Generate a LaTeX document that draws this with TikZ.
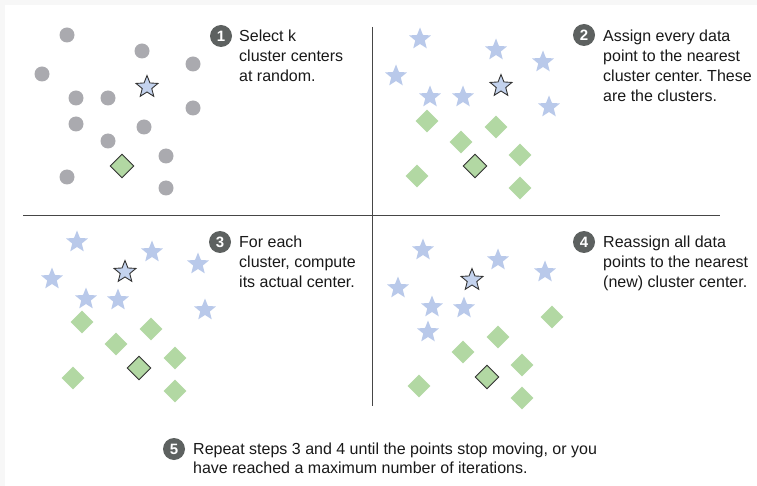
\documentclass[tikz,border=0pt]{standalone}
\usepackage{fontspec}
\setmainfont{Liberation Sans}
\usepackage{xcolor}
\usetikzlibrary{shapes.geometric, positioning}
\frenchspacing

\definecolor{bggray}{RGB}{247,247,247}
\definecolor{dotgray}{RGB}{170,170,175}
\definecolor{pointblue}{RGB}{185,201,234}
\definecolor{centerblue}{RGB}{196,211,238}
\definecolor{pointgreen}{RGB}{178,216,163}
\definecolor{markgray}{RGB}{93,97,96}
\definecolor{edgegray}{RGB}{51,51,51}
\definecolor{rulegray}{RGB}{70,70,70}

\begin{document}
\begin{tikzpicture}[
    x=1pt,y=-1pt,
    datapt/.style={circle, fill=dotgray, inner sep=0pt, minimum size=15pt},
    bluept/.style={star, star points=5, star point ratio=2.3, fill=pointblue, inner sep=0pt, minimum size=23pt},
    greenpt/.style={diamond, fill=pointgreen, inner sep=0pt, minimum size=23pt},
    bluecenter/.style={bluept, fill=centerblue, draw=edgegray, line width=0.9pt},
    greencenter/.style={greenpt, minimum size=24pt, draw=edgegray, line width=0.9pt},
    stepnum/.style={circle, fill=markgray, text=white, inner sep=0pt, minimum size=22pt, font=\fontsize{15}{15}\selectfont\bfseries},
    steptext/.style={anchor=north west, inner sep=0pt, align=left, text=black!90, font=\fontsize{16}{20}\selectfont},
    divider/.style={draw=rulegray, line width=1pt}
]

    % --- Canvas ---
    \useasboundingbox (0,0) rectangle (757,486);
    \fill[bggray] (0,0) rectangle (757,486);
    \fill[white] (5,5) rectangle (757,486);

    % --- Dividers ---
    \coordinate (hleft) at (23,216);
    \coordinate (hright) at (720,216);
    \coordinate (vtop) at (372,27);
    \coordinate (vbot) at (372,406);
    \draw[divider] (hleft) -- (hright);
    \draw[divider] (vtop) -- (vbot);

    % --- Panel 1: unassigned points ---
    \node[datapt] (a1) at (67,35) {};   \node[datapt] (a2) at (142,51) {};
    \node[datapt] (a3) at (193,64) {};  \node[datapt] (a4) at (42,74) {};
    \node[datapt] (a5) at (76,98) {};   \node[datapt] (a6) at (108,98) {};
    \node[datapt] (a7) at (193,108) {}; \node[datapt] (a8) at (76,124) {};
    \node[datapt] (a9) at (144,127) {}; \node[datapt] (a10) at (108,141) {};
    \node[datapt] (a11) at (166,156) {}; \node[datapt] (a12) at (67,177) {};
    \node[datapt] (a13) at (166,188) {};
    \node[bluecenter] (astar) at (147,87) {};
    \node[greencenter] (adia) at (122,166) {};

    % --- Panel 2: assigned points ---
    \node[bluept] (b1) at (420,39) {};  \node[bluept] (b2) at (496,50) {};
    \node[bluept] (b3) at (543,62) {};  \node[bluept] (b4) at (396,76) {};
    \node[bluept] (b5) at (430,97) {};  \node[bluept] (b6) at (463,97) {};
    \node[bluept] (b7) at (549,107) {};
    \node[greenpt] (b8) at (427,121) {};  \node[greenpt] (b9) at (496,127) {};
    \node[greenpt] (b10) at (461,142) {}; \node[greenpt] (b11) at (520,155) {};
    \node[greenpt] (b12) at (417,176) {}; \node[greenpt] (b13) at (520,188) {};
    \node[bluecenter] (bstar) at (501,86) {};
    \node[greencenter] (bdia) at (475,166) {};

    % --- Panel 3: recomputed centers ---
    \node[bluept] (c1) at (77,242) {};  \node[bluept] (c2) at (152,252) {};
    \node[bluept] (c3) at (198,264) {}; \node[bluept] (c4) at (52,279) {};
    \node[bluept] (c5) at (86,299) {};  \node[bluept] (c6) at (118,300) {};
    \node[bluept] (c7) at (205,310) {};
    \node[greenpt] (c8) at (82,322) {};   \node[greenpt] (c9) at (151,329) {};
    \node[greenpt] (c10) at (116,344) {}; \node[greenpt] (c11) at (175,358) {};
    \node[greenpt] (c12) at (73,378) {};  \node[greenpt] (c13) at (175,391) {};
    \node[bluecenter] (cstar) at (125,272) {};
    \node[greencenter] (cdia) at (139,368) {};

    % --- Panel 4: reassigned points ---
    \node[bluept] (d1) at (423,250) {}; \node[bluept] (d2) at (498,260) {};
    \node[bluept] (d3) at (545,272) {}; \node[bluept] (d4) at (398,288) {};
    \node[bluept] (d5) at (432,307) {}; \node[bluept] (d6) at (464,308) {};
    \node[bluept] (d7) at (428,332) {};
    \node[greenpt] (d8) at (552,317) {};  \node[greenpt] (d9) at (498,337) {};
    \node[greenpt] (d10) at (463,352) {}; \node[greenpt] (d11) at (522,365) {};
    \node[greenpt] (d12) at (419,386) {}; \node[greenpt] (d13) at (522,398) {};
    \node[bluecenter] (dstar) at (472,280) {};
    \node[greencenter] (ddia) at (487,377) {};

    % --- Step labels ---
    \node[stepnum] (n1) at (221,36) {1};
    \node[steptext] (t1) at (239,30) {Select k\\cluster centers\\at random.};

    \node[stepnum] (n2) at (584,35) {2};
    \node[steptext] (t2) at (603,29.5) {Assign every data\\point to the nearest\\cluster center. These\\are the clusters.};

    \node[stepnum] (n3) at (220,242) {3};
    \node[steptext] (t3) at (239,236) {For each\\cluster, compute\\its actual center.};

    \node[stepnum] (n4) at (584,242) {4};
    \node[steptext] (t4) at (603,236) {Reassign all data\\points to the nearest\\(new) cluster center.};

    \node[stepnum] (n5) at (174,449) {5};
    \node[steptext, font=\fontsize{16}{19}\selectfont] (t5) at (193,443) {Repeat steps 3 and 4 until the points stop moving, or you\\have reached a maximum number of iterations.};

\end{tikzpicture}
\end{document}
